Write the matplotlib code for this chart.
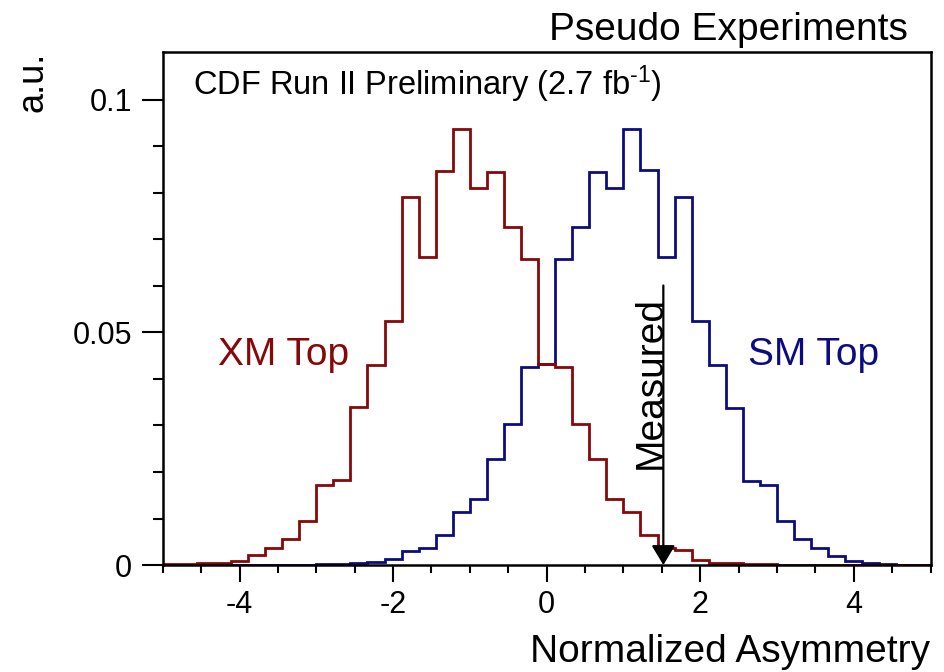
import numpy as np
import matplotlib
matplotlib.use("Agg")
from matplotlib import pyplot as plt
from matplotlib.ticker import MultipleLocator

plt.rcParams['font.family'] = ['Liberation Sans', 'DejaVu Sans']
plt.rcParams['mathtext.fontset'] = 'custom'
plt.rcParams['mathtext.rm'] = 'Liberation Sans'
plt.rcParams['mathtext.default'] = 'regular'

## pseudo-experiment distributions, 45 bins over [-5, 5]
edges = np.linspace(-5, 5, 46)

xm_top = [0.0002, 0.0002, 0.0004, 0.0005, 0.0009, 0.0021, 0.0036, 0.0055, 0.0094, 0.0172,
          0.0182, 0.0340, 0.0431, 0.0524, 0.0792, 0.0663, 0.0848, 0.0937, 0.0810, 0.0845,
          0.0726, 0.0658, 0.0433, 0.0426, 0.0304, 0.0227, 0.0141, 0.0113, 0.0064, 0.0036,
          0.0032, 0.0011, 0.0005, 0.0004, 0.0002, 0.0002, 0.0001, 0.0001, 0.0001, 0.0001,
          0.0001, 0.0001, 0.0001, 0.0001, 0.0001]

sm_top = [0.0001, 0.0001, 0.0001, 0.0001, 0.0001, 0.0001, 0.0001, 0.0001, 0.0001, 0.0002,
          0.0002, 0.0004, 0.0006, 0.0014, 0.0031, 0.0036, 0.0064, 0.0114, 0.0141, 0.0229,
          0.0304, 0.0426, 0.0433, 0.0659, 0.0726, 0.0845, 0.0810, 0.0937, 0.0849, 0.0663,
          0.0792, 0.0525, 0.0431, 0.0338, 0.0180, 0.0173, 0.0094, 0.0055, 0.0036, 0.0019,
          0.0009, 0.0004, 0.0002, 0.0001, 0.0001]

measured = 1.52
red = '#870808'
blue = '#0c0c7e'

fig = plt.figure(figsize=(9.45, 6.72), dpi=100)
ax = fig.add_axes([0.1722, 0.1592, 0.8125, 0.7634])

ax.stairs(sm_top, edges, color=blue, lw=2.0)
ax.stairs(xm_top, edges, color=red, lw=2.0)

ax.set_xlim(-5, 5)
ax.set_ylim(0, 0.1103)

ax.xaxis.set_minor_locator(MultipleLocator(0.5))
ax.set_xticks([-4, -2, 0, 2, 4])
ax.set_xticklabels(['-4', '-2', '0', '2', '4'])
ax.set_yticks([0, 0.05, 0.1])
ax.set_yticklabels(['0', '0.05', '0.1'])
ax.set_yticks([0.01, 0.02, 0.03, 0.04, 0.06, 0.07, 0.08, 0.09], minor=True)

ax.tick_params(axis='x', which='major', direction='out', length=12, width=1.5, labelsize=22, pad=6)
ax.tick_params(axis='x', which='minor', direction='out', length=6, width=1.5)
ax.tick_params(axis='y', which='major', direction='out', length=15, width=1.5, labelsize=22, pad=7)
ax.tick_params(axis='y', which='minor', direction='out', length=7, width=1.5)
for s in ax.spines.values():
    s.set_linewidth(1.8)

# measured value marker
ax.annotate('', xy=(measured, 0), xytext=(measured, 0.0601),
            arrowprops=dict(arrowstyle='-|>,head_length=0.6,head_width=0.36',
                            mutation_scale=20, color='k', lw=1.6,
                            shrinkA=0, shrinkB=0))
ax.text(1.488, 0.0392, 'Measured', rotation=90, rotation_mode='anchor',
        ha='center', va='baseline', fontsize=28)

ax.text(-4.28, 0.0451, 'XM Top', color=red, fontsize=28, va='center', ha='left')
ax.text(2.62, 0.0451, 'SM Top', color=blue, fontsize=28, va='center', ha='left')
ax.text(-4.6, 0.1034, r'CDF Run II Preliminary (2.7 fb$^{\text{-1}}$)', fontsize=23.5,
        va='center', ha='left')

fig.text(0.961, 0.9405, 'Pseudo Experiments', fontsize=28, ha='right', va='baseline')
fig.text(0.984, 0.0149, 'Normalized Asymmetry', fontsize=28, ha='right', va='baseline')
fig.text(43 / 945, 1 - 52 / 672, 'a.u.', fontsize=26, rotation=90,
         rotation_mode='anchor', ha='right', va='baseline')

fig.savefig('out.png', dpi=100)
